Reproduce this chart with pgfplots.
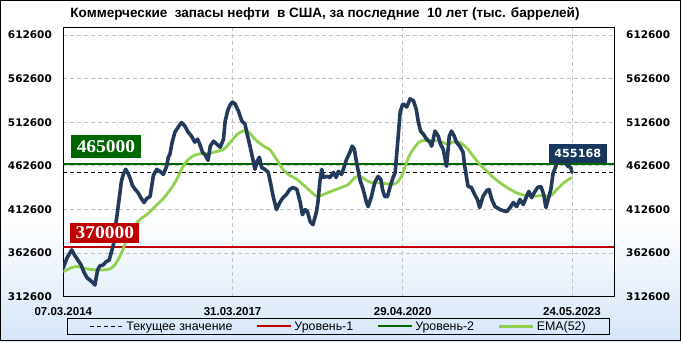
\documentclass[border=0pt]{standalone}
\usepackage{fontspec}
\usepackage{pgfplots}
\pgfplotsset{compat=1.18}
\setmainfont{Liberation Sans}
\newfontfamily\dejavu{DejaVu Sans}
\newfontfamily\serifb{Liberation Serif}[FakeStretch=1.08]
\definecolor{navy}{RGB}{35,58,92}
\definecolor{emagreen}{RGB}{146,208,80}
\definecolor{lvlgreen}{RGB}{0,102,0}
\definecolor{lvlred}{RGB}{192,0,0}
\definecolor{boxnavy}{RGB}{23,55,94}
\definecolor{gridgray}{RGB}{195,195,195}
\definecolor{bgblue}{RGB}{214,230,248}
\begin{document}
\begin{tikzpicture}[x=1bp,y=1bp]
\useasboundingbox (0,0) rectangle (681,341);
\fill[white] (0,0) rectangle (681,341);
\shade[top color=white, bottom color=bgblue] (0,0) rectangle (681,125);
\node[font=\bfseries\fontsize{13.5bp}{15bp}\selectfont, inner sep=0pt] at (325,327) {Коммерческие\ \ запасы нефти\ \ в США, за последние\ \ 10 лет (тыс. баррелей)};
\begin{axis}[
  at={(63.3bp,44.3bp)}, anchor=south west, scale only axis,
  width=550.7bp, height=269.4bp,
  xmin=2014.178, xmax=2024.154, ymin=312600, ymax=621500,
  scaled x ticks=false, scaled y ticks=false,
  axis line style={black, line width=1bp},
  major tick length=0pt,
  xtick={2014.178,2017.244,2020.325,2023.392},
  xticklabels={07.03.2014,31.03.2017,29.04.2020,24.05.2023},
  ytick={312600,362600,412600,462600,512600,562600,612600},
  yticklabels={312600,362600,412600,462600,512600,562600,612600},
  grid=major,
  major grid style={gridgray, dash pattern=on 4bp off 3bp, line width=0.8bp},
  xticklabel style={font=\bfseries\fontsize{11.5bp}{13bp}\selectfont, anchor=north, inner sep=0pt, yshift=-10.5bp},
  yticklabel style={font=\dejavu\bfseries\fontsize{10.5bp}{12bp}\selectfont, anchor=east, inner sep=0pt, xshift=-11.3bp},
  legend image code/.code={\draw[#1] (0bp,0bp) -- (34bp,0bp);},
  legend style={at={(0.5,-0.1106)}, anchor=center, draw=black, line width=0.8bp, fill=none,
    legend columns=4, font=\fontsize{12.4bp}{14bp}\selectfont,
    /tikz/every even column/.append style={column sep=22bp},
    inner xsep=22bp, inner ysep=1bp, legend cell align=left},
]
\addplot[black, line width=0.9bp, dash pattern=on 4bp off 3bp] coordinates {(2014.178,455168) (2024.154,455168)};
\addlegendentry{Текущее значение}
\addplot[lvlred, line width=2bp] coordinates {(2014.178,370000) (2024.154,370000)};
\addlegendentry{Уровень-1}
\addplot[lvlgreen, line width=2bp] coordinates {(2014.178,465000) (2024.154,465000)};
\addlegendentry{Уровень-2}
\addplot[emagreen, line width=2.8bp, smooth, tension=0.5] coordinates {
(2014.178,341300) (2014.30,345200) (2014.42,347300) (2014.54,345600) (2014.66,343900)
(2014.78,343300) (2014.90,343300) (2015.02,344400) (2015.11,349000) (2015.20,358600)
(2015.28,370200) (2015.33,380200) (2015.42,389400) (2015.51,397500) (2015.60,402900)
(2015.69,406700) (2015.84,415900) (2016.02,427500) (2016.20,443300) (2016.32,458600)
(2016.41,467900) (2016.53,474000) (2016.65,476500) (2016.78,476500) (2016.93,478600)
(2017.08,481700) (2017.20,489400) (2017.32,498400) (2017.44,502800) (2017.53,501900)
(2017.65,493200) (2017.80,485500) (2017.92,481100) (2018.04,470200) (2018.13,460900)
(2018.25,452900) (2018.41,447100) (2018.56,439000) (2018.68,432100) (2018.77,427500)
(2018.83,428100) (2018.89,429800) (2019.04,433600) (2019.19,437300) (2019.34,441300)
(2019.46,449100) (2019.55,450900) (2019.64,447100) (2019.76,443300) (2019.88,443100)
(2020.00,442500) (2020.13,441300) (2020.22,443300) (2020.30,450000) (2020.37,462100)
(2020.46,475900) (2020.58,486900) (2020.67,491300) (2020.82,491300) (2020.97,491300)
(2021.06,489400) (2021.15,487500) (2021.24,490100) (2021.36,489400) (2021.48,483700)
(2021.60,474000) (2021.72,464400) (2021.85,456900) (2021.94,450900) (2022.09,443300)
(2022.27,435600) (2022.42,430900) (2022.57,428600) (2022.72,427800) (2022.84,428600)
(2023.00,428100) (2023.09,433600) (2023.21,441300) (2023.33,447100) (2023.392,449100)
};
\addlegendentry{EMA(52)}
\addplot[navy, line width=3.6bp, line join=round, line cap=round, forget plot] coordinates {
(2014.178,345600) (2014.245,357100) (2014.33,366300) (2014.39,359400) (2014.44,354800)
(2014.50,349000) (2014.55,341000) (2014.61,334100) (2014.66,331700) (2014.72,328300)
(2014.75,326000) (2014.80,343300) (2014.84,347900) (2014.90,349000) (2014.95,352500)
(2015.01,354800) (2015.05,364000) (2015.09,373300) (2015.12,391700) (2015.16,410200)
(2015.20,429800) (2015.23,444800) (2015.27,454000) (2015.31,458600) (2015.35,454000)
(2015.39,448200) (2015.43,440200) (2015.48,435600) (2015.53,432100) (2015.59,425200)
(2015.64,420600) (2015.69,425200) (2015.75,427500) (2015.81,451700) (2015.87,458600)
(2015.93,456300) (2015.99,452900) (2016.05,462100) (2016.08,472500) (2016.11,475900)
(2016.15,489800) (2016.20,501300) (2016.26,507100) (2016.32,512300) (2016.38,508200)
(2016.44,501300) (2016.50,496700) (2016.56,489800) (2016.61,493200) (2016.65,487500)
(2016.70,478200) (2016.74,475900) (2016.80,469000) (2016.84,485200) (2016.90,490900)
(2016.96,487500) (2017.02,484000) (2017.08,493200) (2017.11,514000) (2017.16,526700)
(2017.20,532400) (2017.24,535900) (2017.29,533600) (2017.35,525500) (2017.41,514300)
(2017.47,510500) (2017.50,501300) (2017.56,485200) (2017.62,467900) (2017.65,458600)
(2017.69,467900) (2017.73,472500) (2017.77,460900) (2017.83,458600) (2017.89,455200)
(2017.93,443600) (2017.98,427500) (2018.04,412500) (2018.10,420600) (2018.16,426300)
(2018.22,429800) (2018.28,435600) (2018.34,437900) (2018.41,435600) (2018.47,420600)
(2018.51,406700) (2018.56,412500) (2018.60,410200) (2018.65,398600) (2018.70,395200)
(2018.76,409000) (2018.79,420600) (2018.83,447100) (2018.86,458600) (2018.89,449400)
(2018.95,450500) (2019.01,449400) (2019.07,455200) (2019.12,449400) (2019.16,456300)
(2019.22,452900) (2019.28,464400) (2019.31,470200) (2019.37,478200) (2019.41,485200)
(2019.45,481700) (2019.49,466700) (2019.55,447100) (2019.61,435600) (2019.67,420600)
(2019.70,415900) (2019.76,427500) (2019.82,443600) (2019.88,450500) (2019.93,447100)
(2019.96,435600) (2020.00,427500) (2020.05,427500) (2020.10,439000) (2020.14,447100)
(2020.19,455200) (2020.24,493200) (2020.28,524400) (2020.32,532400) (2020.34,533600)
(2020.40,530100) (2020.46,539400) (2020.52,537400) (2020.57,527800) (2020.61,512800)
(2020.65,502500) (2020.70,499000) (2020.76,493200) (2020.82,489800) (2020.85,485200)
(2020.88,493200) (2020.91,502500) (2020.97,496700) (2021.01,487500) (2021.06,481700)
(2021.12,462100) (2021.17,496700) (2021.21,502500) (2021.26,496700) (2021.30,489800)
(2021.36,485200) (2021.42,478200) (2021.45,462100) (2021.51,439000) (2021.57,437900)
(2021.63,429800) (2021.68,424000) (2021.72,414800) (2021.78,427500) (2021.85,434400)
(2021.89,435600) (2021.94,424000) (2022.00,415900) (2022.09,412500) (2022.14,411300)
(2022.21,410200) (2022.27,414800) (2022.33,420600) (2022.39,415900) (2022.45,424000)
(2022.51,418300) (2022.57,427500) (2022.61,433300) (2022.66,426300) (2022.71,432100)
(2022.77,437900) (2022.83,439000) (2022.88,429800) (2022.92,414800) (2022.96,424000)
(2023.01,435600) (2023.05,454000) (2023.10,462100) (2023.14,470200) (2023.20,472500)
(2023.26,466700) (2023.32,462100) (2023.37,460900) (2023.392,455168)
};
\node[fill=lvlgreen, text=white, inner sep=0pt, minimum width=70bp, minimum height=23bp,
  font=\serifb\bfseries\fontsize{18bp}{20bp}\selectfont] at (axis cs:2014.950,484600) {465000};
\node[fill=lvlred, text=white, inner sep=0pt, minimum width=69bp, minimum height=20bp,
  font=\serifb\bfseries\fontsize{18bp}{20bp}\selectfont] at (axis cs:2014.930,385650) {370000};
\node[fill=boxnavy, text=white, inner sep=0pt, minimum width=58bp, minimum height=19bp,
  font=\dejavu\bfseries\fontsize{11.2bp}{13bp}\selectfont] at (axis cs:2023.497,476600) {455168};
\end{axis}
\begin{axis}[
  at={(63.3bp,44.3bp)}, anchor=south west, scale only axis,
  width=550.7bp, height=269.4bp,
  xmin=2014.178, xmax=2024.154, ymin=312600, ymax=621500,
  scaled x ticks=false, scaled y ticks=false,
  axis x line=none, axis y line*=right, y axis line style={draw=none},
  major tick length=0pt,
  ytick={312600,362600,412600,462600,512600,562600,612600},
  yticklabels={312600,362600,412600,462600,512600,562600,612600},
  yticklabel style={font=\dejavu\bfseries\fontsize{10.5bp}{12bp}\selectfont, anchor=west, inner sep=0pt, xshift=12bp},
]
\addplot[draw=none] coordinates {(2015,400000)};
\end{axis}
\draw[black, line width=1bp] (0.5,0.5) rectangle (680.5,340.5);
\end{tikzpicture}
\end{document}
